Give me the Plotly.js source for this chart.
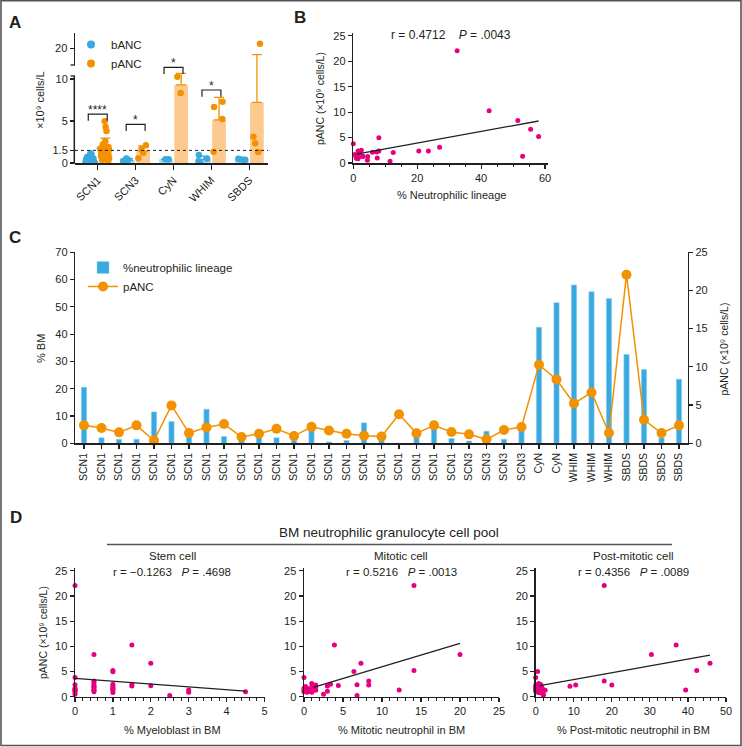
<!DOCTYPE html>
<html>
<head>
<meta charset="utf-8">
<script src="https://cdn.plot.ly/plotly-3.0.1.min.js"></script>
<style>
html,body{margin:0;padding:0;background:#fff;}
#chart{width:742px;height:747px;}
</style>
</head>
<body>
<div id="chart"></div>
<script>
// ================= DATA =================
// Panel A: baseline (bANC) and peak (pANC) ANC per diagnosis group (x10^9 cells/L)
const groupsA  = ['SCN1','SCN3','CyN','WHIM','SBDS'];
const bancSCN1 = [1.15,1.0,0.9,0.8,0.7,0.65,0.55,0.5,0.45,0.4,0.35,0.3,0.3,0.25,0.2,0.2,0.15,0.1,0.1,0.05,0.05,0.0];
const pancSCN1 = [4.96,4.3,3.8,2.6,2.3,2.2,2.0,1.9,1.8,1.7,1.6,1.5,1.4,1.3,1.3,1.2,1.1,1.0,0.9,0.8,0.6,0.4,0.3];
const bancSCN3 = [0.55,0.4,0.25,0.1];
const pancSCN3 = [2.1,1.67,1.23,0.56];
const bancCyN  = [0.45,0.45];
const pancCyN  = [10.27,8.35];
const bancWHIM = [0.95,0.5,0.2,0.1];
const pancWHIM = [7.3,6.67,5.24,1.35];
const bancSBDS = [0.5,0.45,0.4,0.4];
const pancSBDS = [22.06,3.13,2.34,1.3];
const sigLabels = ['****','*','*','*',''];
const ancThreshold = 1.5;

// Panel B / C: per patient % neutrophilic lineage in BM and pANC
const cLabels = ['SCN1','SCN1','SCN1','SCN1','SCN1','SCN1','SCN1','SCN1','SCN1','SCN1','SCN1',
                 'SCN1','SCN1','SCN1','SCN1','SCN1','SCN1','SCN1','SCN1','SCN1','SCN1','SCN1',
                 'SCN3','SCN3','SCN3','SCN3','CyN','CyN','WHIM','WHIM','WHIM','SBDS','SBDS','SBDS','SBDS'];
const cNeutroPct = [20.5,2,1.5,1.5,11.5,8,3,12.5,2.5,1.5,3,2,1,7.3,0.5,1,7.5,1.2,0,4.5,8,1.8,
                    0.85,4.4,1.5,6,42.5,51.5,58,55.5,53,32.5,27,2,23.5];
const cPANC = [2.35,2.0,1.43,2.35,0.35,4.96,1.34,2.08,2.52,0.82,1.26,1.91,0.95,2.15,1.68,1.26,1.0,0.9,3.8,1.3,2.35,1.48,
               1.17,0.52,1.74,2.13,10.27,8.35,5.22,6.65,1.34,22.06,3.08,1.34,2.35];
const fitBx = [1, 58];
const fitBy = [1.75, 8.25];

// Panel D: BM neutrophilic granulocyte cell pool vs pANC
const dMyeloX = [0,0,0,0,0,0,0,0,0, 0.5,0.5,0.5,0.5,0.5,0.5,0.5,0.5,0.5, 1,1,1,1,1,1,1,1, 1.5,1.5,1.5, 2,2, 2.5, 3,3, 4.5];
const dMyeloY = [22.06,3.8,2.35,1.7,1.3,0.5,1.48,0.95,1.17, 8.35,3.1,2.8,2.3,1.9,1.45,1.0,1.26,2.0,
                 5.22,4.96,2.45,2.08,1.6,1.26,1.74,0.82, 10.27,2.35,2.13, 6.65,2.15, 0.26, 1.34,0.9, 1.0];
const dMitoX = [0,0,0,0, 0.4,0.4,0.4, 1,1,1,1, 1.5,1.5, 2.5, 3,3, 3.4, 3.9, 4.4, 6.4, 7.3, 6.8,6.8, 8.3,8.3, 12.2, 14.1,14.1, 20,
                0.5,0.7,1.2,1.5,0.2,1];
const dMitoY = [3.8,1.7,1.3,1.0, 1.7,1.3,0.9, 2.6,2.0,1.3,0.9, 2.3,1.3, 0.5, 2.1,1.06, 2.45, 10.27, 2.2, 5.0, 6.65, 2.35,0.26, 3.1,2.3, 1.34, 22.06,5.22, 8.35,
                1.5,1.1,1.6,1.8,2.0,1.5];
const dPostX = [0,0.5, 0,0,0,0, 0.3,0.5,0.6,0.8,1,1,1.2,1.5,1.5,1.8,2,2,2.5,0.3,0.9,1.3,0.2,0.4,1.1,
                9,10.5,18,18,20,30.4,36.9,39.4,42.3,45.8];
const dPostY = [3.8,5.0, 2.3,1.9,1.5,1.1, 2.0,1.3,0.9,2.6,2.2,1.7,1.4,2.0,1.2,1.6,0.3,0.5,1.26,1.7,1.0,2.4,1.2,2.2,0.8,
                2.05,2.3,22.06,3.1,2.3,8.35,10.27,1.34,5.22,6.65];
const fitD1x = [0, 4.5],  fitD1y = [3.65, 1.1];
const fitD2x = [1.2, 20], fitD2y = [1.85, 10.6];
const fitD3x = [1.1, 45.8], fitD3y = [2.2, 8.25];

const statB  = 'r = 0.4712    <i>P</i> = .0043';
const statD1 = 'r = \u22120.1263   <i>P</i> = .4698';
const statD2 = 'r = 0.5216   <i>P</i> = .0013';
const statD3 = 'r = 0.4356   <i>P</i> = .0089';
const unitTitle = 'pANC (\u00d710\u2079 cells/L)';

// ================= STYLE / GEOMETRY =================
const W = 742, H = 747;
const X = p => p / W;
const Y = p => 1 - p / H;
const dX = (a, b) => [X(a), X(b)];
const dY = (bottom, top) => [Y(bottom), Y(top)];

const INK = '#231f20';
const BLUE = '#39a9e0', BLUE_LIGHT = '#a6d9f2';
const ORANGE = '#f39200', ORANGE_LIGHT = '#fcc98e';
const PINK = '#e6007e';
const FONT = 'Liberation Sans, Arial, Helvetica, sans-serif';

const axBase = {
  showgrid:false, zeroline:false, showline:true, linecolor:INK, linewidth:1.5,
  ticks:'outside', ticklen:4, tickwidth:1.2, tickcolor:INK,
  tickfont:{size:11, color:INK, family:FONT}, fixedrange:true
};

const mean = a => a.reduce((s, v) => s + v, 0) / a.length;
const sd = a => { const m = mean(a); return Math.sqrt(a.reduce((s, v) => s + (v - m) * (v - m), 0) / (a.length - 1)); };

// ================= PANEL A =================
const aB = [bancSCN1, bancSCN3, bancCyN, bancWHIM, bancSBDS];
const aP = [pancSCN1, pancSCN3, pancCyN, pancWHIM, pancSBDS];
const OFF = 0.2, BW = 0.36;
const xBpos = groupsA.map((g, i) => i - OFF);
const xPpos = groupsA.map((g, i) => i + OFF);
const loRange = [0, 11.67], hiRange = [12.4, 27.1];
const loBottomPx = 163, loTopPx = 65;   // pixel extent of the lower y segment
const loPx = v => loBottomPx - (v - loRange[0]) / (loRange[1] - loRange[0]) * (loBottomPx - loTopPx);

const traces = [];
function errSpec(arr, color) {
  return {type:'data', symmetric:false, array:arr.map(sd), arrayminus:arr.map(() => 0),
          color:color, thickness:1.3, width:5};
}
traces.push({type:'bar', x:xBpos, y:aB.map(mean), width:BW, marker:{color:BLUE_LIGHT},
             error_y:errSpec(aB, BLUE), xaxis:'x', yaxis:'y', showlegend:false, hoverinfo:'skip'});
traces.push({type:'bar', x:xPpos, y:aP.map(mean), width:BW, marker:{color:ORANGE_LIGHT},
             error_y:errSpec(aP, ORANGE), xaxis:'x', yaxis:'y', showlegend:false, hoverinfo:'skip'});
traces.push({type:'bar', x:xPpos, y:aP.map(mean), width:BW, marker:{color:ORANGE_LIGHT},
             error_y:errSpec(aP, ORANGE), xaxis:'x', yaxis:'y2', showlegend:false, hoverinfo:'skip'});

function pointsTrace(groups, pos, color, yaxis, filt) {
  const xs = [], ys = [];
  groups.forEach((arr, i) => arr.forEach(v => { if (filt(v)) { xs.push(pos[i]); ys.push(v); } }));
  return {type:'box', orientation:'v', x:xs, y:ys, width:BW, boxpoints:'all', jitter:0.85, pointpos:0,
          fillcolor:'rgba(0,0,0,0)', line:{width:0, color:'rgba(0,0,0,0)'}, whiskerwidth:0,
          marker:{color:color, size:6.5, line:{width:0}}, xaxis:'x', yaxis:yaxis, showlegend:false, hoverinfo:'skip'};
}
traces.push(pointsTrace(aB, xBpos, BLUE, 'y', v => v <= loRange[1]));
traces.push(pointsTrace(aP, xPpos, ORANGE, 'y', v => v <= loRange[1]));
traces.push(pointsTrace(aP, xPpos, ORANGE, 'y2', v => v >= hiRange[0]));
// legend entries for panel A
traces.push({type:'scatter', mode:'markers', x:[null], y:[null], name:'bANC', marker:{color:BLUE, size:8},
             xaxis:'x', yaxis:'y', legend:'legend'});
traces.push({type:'scatter', mode:'markers', x:[null], y:[null], name:'pANC', marker:{color:ORANGE, size:8},
             xaxis:'x', yaxis:'y', legend:'legend'});

// ================= PANEL B =================
traces.push({type:'scatter', mode:'markers', x:cNeutroPct, y:cPANC, marker:{color:PINK, size:5},
             xaxis:'x2', yaxis:'y3', showlegend:false, hoverinfo:'skip', cliponaxis:false});
traces.push({type:'scatter', mode:'lines', x:fitBx, y:fitBy, line:{color:INK, width:1.3},
             xaxis:'x2', yaxis:'y3', showlegend:false, hoverinfo:'skip'});

// ================= PANEL C =================
const cIdx = cLabels.map((l, i) => i);
traces.push({type:'bar', x:cIdx, y:cNeutroPct, width:0.3, name:'%neutrophilic lineage',
             marker:{color:BLUE, line:{color:'#8fd0f0', width:0.6}},
             xaxis:'x3', yaxis:'y4', legend:'legend2', hoverinfo:'skip'});
traces.push({type:'scatter', mode:'lines+markers', x:cIdx, y:cPANC, name:'pANC',
             line:{color:ORANGE, width:1.5}, marker:{color:ORANGE, size:10},
             xaxis:'x3', yaxis:'y5', legend:'legend2', hoverinfo:'skip', cliponaxis:false});

// ================= PANEL D =================
[[dMyeloX, dMyeloY, fitD1x, fitD1y, 'x4', 'y6'],
 [dMitoX, dMitoY, fitD2x, fitD2y, 'x5', 'y7'],
 [dPostX, dPostY, fitD3x, fitD3y, 'x6', 'y8']].forEach(([xs, ys, fx, fy, xa, ya]) => {
  traces.push({type:'scatter', mode:'markers', x:xs, y:ys, marker:{color:PINK, size:5},
               xaxis:xa, yaxis:ya, showlegend:false, hoverinfo:'skip', cliponaxis:false});
  traces.push({type:'scatter', mode:'lines', x:fx, y:fy, line:{color:INK, width:1.3},
               xaxis:xa, yaxis:ya, showlegend:false, hoverinfo:'skip'});
});

// ================= LAYOUT =================
const annotations = [];
function ann(text, xp, yp, o = {}) {
  annotations.push(Object.assign({
    text:text, xref:'paper', yref:'paper', x:X(xp), y:Y(yp), showarrow:false,
    xanchor:'center', yanchor:'middle',
    font:{family:FONT, size:o.size || 11.5, color:INK}
  }, o.extra || {}));
}
const TS = 10.5; // axis title size
// panel letters
ann('<b>A</b>', 15, 22, {size:17});
ann('<b>B</b>', 300, 18, {size:17});
ann('<b>C</b>', 15, 238, {size:17});
ann('<b>D</b>', 16, 517, {size:17});
// axis titles
ann('\u00d710\u2079 cells/L', 40, 100, {size:TS + 0.5, extra:{textangle:-90}});
ann(unitTitle, 320, 99, {size:TS, extra:{textangle:-90}});
ann('% Neutrophilic lineage', 452, 195, {size:TS + 0.5});
ann('% BM', 41, 349, {size:TS + 0.5, extra:{textangle:-90}});
ann(unitTitle, 723.5, 349, {size:TS, extra:{textangle:-90}});
ann(unitTitle, 43, 633, {size:TS, extra:{textangle:-90}});
ann('% Myeloblast in BM', 172, 730, {size:TS + 0.5});
ann('% Mitotic neutrophil in BM', 401.5, 730, {size:TS + 0.5});
ann('% Post-mitotic neutrophil in BM', 633, 730, {size:TS + 0.5});
// statistics
ann(statB, 451, 34.5, {size:12});
ann(statD1, 172, 572, {size:11.5});
ann(statD2, 401, 572, {size:11.5});
ann(statD3, 633, 572, {size:11.5});
// panel D headings
ann('BM neutrophilic granulocyte cell pool', 389, 532, {size:13.5});
ann('Stem cell', 172, 555.5, {size:11.5});
ann('Mitotic cell', 401, 555.5, {size:11.5});
ann('Post-mitotic cell', 633, 555.5, {size:11.5});

// significance brackets in panel A (heights in axis units)
const bracketTop = [5.83, 4.6, 11.39, 8.69, null];
const shapes = [];
sigLabels.forEach((s, i) => {
  if (!s) return;
  const t = bracketTop[i], l = t - 0.8, x0 = i - 0.25, x1 = i + 0.25;
  shapes.push({type:'path', xref:'x', yref:'y',
               path:`M ${x0} ${l} L ${x0} ${t} L ${x1} ${t} L ${x1} ${l}`,
               line:{color:INK, width:1.2}});
  annotations.push({text:s, xref:'x', yref:'paper', x:i, y:Y(loPx(t) - 4), showarrow:false,
                    xanchor:'center', yanchor:'middle', font:{family:FONT, size:12, color:INK}});
});
// dotted reference line at 1.5
shapes.push({type:'line', xref:'x', yref:'y', x0:-0.6, x1:4.5, y0:ancThreshold, y1:ancThreshold,
             line:{color:INK, width:1, dash:'dot'}});
// broken y axis of panel A (lower segment + break marks)
shapes.push({type:'line', xref:'paper', yref:'paper', x0:X(74.3), x1:X(74.3), y0:Y(163.8), y1:Y(76),
             line:{color:INK, width:1.5}});
shapes.push({type:'line', xref:'paper', yref:'paper', x0:X(70.5), x1:X(75), y0:Y(76), y1:Y(76),
             line:{color:INK, width:1.3}});
shapes.push({type:'line', xref:'paper', yref:'paper', x0:X(70.5), x1:X(75), y0:Y(65), y1:Y(65),
             line:{color:INK, width:1.3}});
// header rule of panel D
shapes.push({type:'line', xref:'paper', yref:'paper', x0:X(107), x1:X(672), y0:Y(544.5), y1:Y(544.5),
             line:{color:'#555', width:1.3}});
// figure frame
shapes.push({type:'rect', xref:'paper', yref:'paper', x0:X(1), x1:X(741), y0:Y(745.5), y1:Y(0.8),
             line:{color:'#555', width:1.6}});

const layout = {
  width:W, height:H, margin:{l:0, r:0, t:0, b:0},
  paper_bgcolor:'#fff', plot_bgcolor:'rgba(0,0,0,0)',
  font:{family:FONT, color:INK, size:11},
  barmode:'overlay', boxmode:'overlay',
  showlegend:true,
  // Panel A
  xaxis: Object.assign({}, axBase, {domain:dX(75, 268.3), range:[-0.6, 4.5], tickvals:[0,1,2,3,4],
          ticktext:groupsA, tickangle:-45, ticklen:5, anchor:'y'}),
  yaxis: Object.assign({}, axBase, {domain:dY(loBottomPx, loTopPx), range:loRange, showline:false,
          tickvals:[0,1.5,5,10], ticktext:['0','1.5','5','10'], anchor:'x'}),
  yaxis2: Object.assign({}, axBase, {domain:dY(65, 32.7), range:hiRange, tickvals:[20], anchor:'x'}),
  // Panel B
  xaxis2: Object.assign({}, axBase, {domain:dX(353.3, 548.2), range:[0, 61], tickvals:[0,20,40,60], anchor:'y3',
          minor:{dtick:5, ticks:'outside', ticklen:2.5, tickcolor:INK, tickwidth:1}}),
  yaxis3: Object.assign({}, axBase, {domain:dY(163, 33.2), range:[0, 25.5], dtick:5, anchor:'x2'}),
  // Panel C
  xaxis3: Object.assign({}, axBase, {domain:dX(75.25, 687.75), range:[-0.5, 34.5], tickvals:cIdx, ticktext:cLabels,
          tickangle:-90, tickfont:{size:10.5, color:INK, family:FONT}, anchor:'y4'}),
  yaxis4: Object.assign({}, axBase, {domain:dY(443.3, 252.2), range:[0, 70], dtick:10, anchor:'x3'}),
  yaxis5: Object.assign({}, axBase, {range:[0, 25], dtick:5, overlaying:'y4', side:'right', anchor:'x3'}),
  // Panel D
  xaxis4: Object.assign({}, axBase, {domain:dX(75, 264.5), range:[0, 5], dtick:1, anchor:'y6',
          minor:{dtick:0.2, ticks:'outside', ticklen:2.5, tickcolor:INK, tickwidth:1}}),
  yaxis6: Object.assign({}, axBase, {domain:dY(696.7, 568.2), range:[0, 25.5], dtick:5, anchor:'x4'}),
  xaxis5: Object.assign({}, axBase, {domain:dX(304, 499), range:[0, 25], dtick:5, anchor:'y7',
          minor:{dtick:1, ticks:'outside', ticklen:2.5, tickcolor:INK, tickwidth:1}}),
  yaxis7: Object.assign({}, axBase, {domain:dY(696.7, 568.2), range:[0, 25.5], dtick:5, anchor:'x5'}),
  xaxis6: Object.assign({}, axBase, {domain:dX(535.7, 726), range:[0, 50], dtick:10, anchor:'y8',
          minor:{dtick:2, ticks:'outside', ticklen:2.5, tickcolor:INK, tickwidth:1}}),
  yaxis8: Object.assign({}, axBase, {domain:dY(696.7, 568.2), range:[0, 25.5], dtick:5, anchor:'x6'}),
  legend: {x:X(71), y:Y(30), xanchor:'left', yanchor:'top', bgcolor:'rgba(0,0,0,0)',
           font:{size:11.5, family:FONT, color:INK}, tracegroupgap:0, itemwidth:30},
  legend2: {x:X(83), y:Y(253), xanchor:'left', yanchor:'top', bgcolor:'rgba(0,0,0,0)',
           font:{size:11.5, family:FONT, color:INK}, tracegroupgap:0, itemwidth:30},
  annotations:annotations,
  shapes:shapes
};

Plotly.newPlot('chart', traces, layout, {staticPlot:true, displayModeBar:false});
</script>
</body>
</html>
